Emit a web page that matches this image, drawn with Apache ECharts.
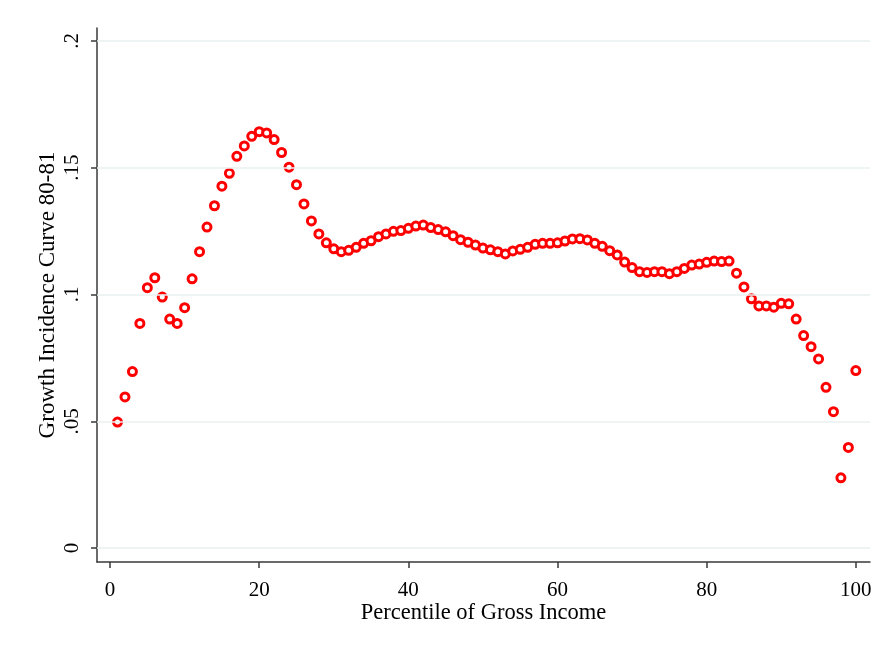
<!DOCTYPE html>
<html>
<head>
<meta charset="utf-8">
<script src="https://cdn.jsdelivr.net/npm/echarts@6/dist/echarts.min.js"></script>
<style>
  html, body { margin: 0; padding: 0; background: #fff; }
  #chart { width: 882px; height: 648px; }
</style>
</head>
<body>
<div id="chart"></div>
<script>
// Percentile of gross income (1..100)
const percentiles = Array.from({ length: 100 }, (_, i) => i + 1);

// Growth incidence, 1980-81, by percentile
const growth = [
  0.0497, 0.0596, 0.0696, 0.0886, 0.1027, 0.1066, 0.0990, 0.0903, 0.0886, 0.0948,
  0.1062, 0.1169, 0.1266, 0.1350, 0.1427, 0.1478, 0.1545, 0.1586, 0.1624, 0.1642,
  0.1637, 0.1611, 0.1560, 0.1502, 0.1433, 0.1357, 0.1290, 0.1239, 0.1204, 0.1180,
  0.1169, 0.1174, 0.1186, 0.1202, 0.1212, 0.1228, 0.1239, 0.1249, 0.1252, 0.1261,
  0.1270, 0.1274, 0.1264, 0.1256, 0.1247, 0.1232, 0.1216, 0.1206, 0.1195, 0.1183,
  0.1176, 0.1169, 0.1160, 0.1172, 0.1178, 0.1186, 0.1198, 0.1202, 0.1202, 0.1204,
  0.1211, 0.1219, 0.1220, 0.1215, 0.1202, 0.1190, 0.1173, 0.1156, 0.1128, 0.1106,
  0.1090, 0.1087, 0.1090, 0.1090, 0.1082, 0.1090, 0.1103, 0.1116, 0.1120, 0.1127,
  0.1132, 0.1130, 0.1132, 0.1084, 0.1030, 0.0983, 0.0955, 0.0955, 0.0950, 0.0965,
  0.0963, 0.0903, 0.0838, 0.0794, 0.0746, 0.0634, 0.0538, 0.0277, 0.0397, 0.0700
];

const xTickValues = [0, 20, 40, 60, 80, 100];
const yTickValues = [0, 0.05, 0.1, 0.15, 0.2];
const yTickLabels = ['0', '.05', '.1', '.15', '.2'];

const FONT = '"Liberation Serif", "Times New Roman", serif';
const AXIS_COLOR = '#3a3a3a';

const chart = echarts.init(document.getElementById('chart'), null, { renderer: 'canvas' });

chart.setOption({
  backgroundColor: '#ffffff',
  animation: false,
  grid: { left: 97, right: 12, top: 28, bottom: 86, containLabel: false },
  xAxis: {
    type: 'value',
    min: -1.75,
    max: 101.9,
    name: 'Percentile of Gross Income',
    nameLocation: 'middle',
    nameGap: 40,
    nameMoveOverlap: false,
    nameTextStyle: { fontFamily: FONT, fontSize: 22.5, color: '#000' },
    axisLine: { show: true, onZero: false, lineStyle: { color: AXIS_COLOR, width: 1.5 } },
    axisTick: { show: true, length: 6, customValues: xTickValues, lineStyle: { color: AXIS_COLOR, width: 1.5 } },
    axisLabel: {
      customValues: xTickValues,
      margin: 18,
      fontFamily: FONT, fontSize: 21, color: '#000'
    },
    splitLine: { show: false }
  },
  yAxis: {
    type: 'value',
    min: -0.0055,
    max: 0.2051,
    name: 'Growth Incidence Curve 80-81',
    nameLocation: 'middle',
    nameGap: 38,
    nameMoveOverlap: false,
    nameRotate: 90,
    nameTextStyle: { fontFamily: FONT, fontSize: 23, color: '#000' },
    axisLine: { show: true, onZero: false, lineStyle: { color: AXIS_COLOR, width: 1.5 } },
    axisTick: { show: true, length: 6, customValues: yTickValues, lineStyle: { color: AXIS_COLOR, width: 1.5 } },
    axisLabel: {
      customValues: yTickValues,
      rotate: 90,
      margin: 14,
      fontFamily: FONT, fontSize: 21, color: '#000',
      formatter: function (v) {
        const i = yTickValues.findIndex(t => Math.abs(t - v) < 1e-9);
        return i >= 0 ? yTickLabels[i] : '';
      }
    },
    splitLine: { show: false }
  },
  series: [
    {
      // horizontal grid lines at the labelled y ticks
      type: 'scatter',
      z: 1,
      data: [],
      silent: true,
      markLine: {
        silent: true,
        symbol: ['none', 'none'],
        label: { show: false },
        lineStyle: { color: '#e9eff1', width: 1.5, type: 'solid' },
        data: yTickValues.map(v => ({ yAxis: v }))
      }
    },
    {
      type: 'scatter',
      z: 3,
      data: percentiles.map((p, i) => [p, growth[i]]),
      symbol: 'circle',
      symbolSize: 8,
      itemStyle: { color: '#ffffff', borderColor: '#ff0000', borderWidth: 3, opacity: 1 }
    }
  ]
});
</script>
</body>
</html>
